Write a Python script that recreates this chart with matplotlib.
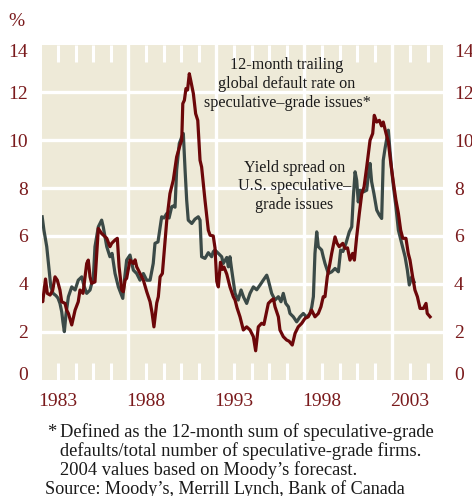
import matplotlib
matplotlib.use("Agg")
import matplotlib.pyplot as plt
import matplotlib.transforms as mtransforms

plt.rcParams['font.family'] = ['Liberation Serif', 'DejaVu Serif']

# Yield spread on U.S. speculative-grade issues (%)
spread_years = [1982.10, 1982.20, 1982.36, 1982.51, 1982.59, 1982.72, 1982.89, 1983.00, 1983.11, 1983.21,
                1983.28, 1983.36, 1983.45, 1983.59, 1983.78, 1983.97, 1984.15, 1984.35, 1984.48, 1984.63,
                1984.82, 1985.01, 1985.10, 1985.29, 1985.48, 1985.57, 1985.77, 1985.95, 1986.07, 1986.24,
                1986.43, 1986.52, 1986.68, 1986.78, 1986.90, 1987.09, 1987.28, 1987.47, 1987.66, 1987.85,
                1988.04, 1988.23, 1988.41, 1988.51, 1988.68, 1988.89, 1989.02, 1989.18, 1989.31, 1989.46,
                1989.55, 1989.65, 1989.74, 1989.89, 1990.03, 1990.12, 1990.22, 1990.31, 1990.40, 1990.60,
                1990.78, 1990.97, 1991.07, 1991.16, 1991.35, 1991.54, 1991.73, 1991.82, 1991.92, 1992.11,
                1992.30, 1992.39, 1992.59, 1992.68, 1992.77, 1992.87, 1993.06, 1993.24, 1993.40, 1993.54,
                1993.72, 1993.91, 1994.10, 1994.29, 1994.48, 1994.66, 1994.86, 1994.95, 1995.14, 1995.33,
                1995.52, 1995.67, 1995.80, 1995.94, 1996.09, 1996.18, 1996.37, 1996.56, 1996.75, 1996.94,
                1997.13, 1997.32, 1997.42, 1997.51, 1997.60, 1997.70, 1997.79, 1997.98, 1998.07, 1998.17,
                1998.36, 1998.55, 1998.74, 1998.93, 1999.06, 1999.19, 1999.36, 1999.55, 1999.69, 1999.78,
                1999.88, 1999.97, 2000.06, 2000.16, 2000.35, 2000.54, 2000.63, 2000.73, 2000.82, 2000.95,
                2001.11, 2001.26, 2001.39, 2001.48, 2001.58, 2001.68, 2001.77, 2001.86, 2001.96, 2002.05,
                2002.20, 2002.34, 2002.53, 2002.72, 2002.85, 2002.96, 2003.10, 2003.23]
spread = [6.8, 6.24, 5.55, 4.43, 3.88, 3.6, 3.5, 3.4, 3.18, 2.83,
          2.4, 2.0, 2.7, 3.46, 3.87, 3.74, 4.15, 4.29, 3.9, 3.6,
          3.74, 4.29, 5.55, 6.38, 6.66, 6.38, 5.55, 5.13, 5.27, 4.43,
          3.87, 3.7, 3.39, 4.2, 4.99, 5.2, 4.57, 4.43, 4.15, 4.43,
          4.15, 4.15, 4.85, 5.69, 5.75, 6.8, 6.75, 6.94, 6.75, 7.22,
          7.25, 7.2, 8.75, 9.86, 10.14, 10.28, 8.75, 7.5, 6.66, 6.52,
          6.7, 6.8, 6.66, 5.13, 5.06, 5.3, 5.13, 5.34, 5.41, 5.27,
          5.13, 4.85, 5.1, 4.71, 5.13, 4.57, 3.6, 3.32, 3.74, 3.45,
          3.18, 3.6, 3.87, 3.75, 3.95, 4.15, 4.36, 4.15, 3.6, 3.32,
          3.46, 3.25, 3.6, 3.18, 3.04, 2.76, 2.62, 2.41, 2.62, 2.76,
          2.6, 2.76, 3.04, 3.46, 5.27, 6.17, 5.55, 5.41, 5.13, 4.85,
          4.43, 4.5, 4.64, 4.5, 5.41, 5.35, 5.69, 6.17, 6.38, 7.63,
          8.68, 8.33, 7.42, 7.91, 7.84, 7.91, 8.54, 9.03, 8.26, 7.77,
          7.08, 6.87, 6.73, 9.16, 9.65, 10.07, 10.42, 9.58, 8.75, 8.12,
          7.22, 6.24, 5.69, 5.13, 4.57, 3.95, 4.29, 4.08]

# 12-month trailing global default rate on speculative-grade issues (%)
default_years = [1982.09, 1982.13, 1982.29, 1982.39, 1982.55, 1982.70, 1982.83, 1982.96, 1983.11, 1983.21,
                 1983.40, 1983.49, 1983.59, 1983.78, 1983.97, 1984.15, 1984.25, 1984.42, 1984.63, 1984.72,
                 1984.82, 1984.91, 1985.10, 1985.29, 1985.48, 1985.77, 1985.95, 1986.05, 1986.24, 1986.37,
                 1986.47, 1986.62, 1986.71, 1986.81, 1986.90, 1987.09, 1987.28, 1987.38, 1987.47, 1987.66,
                 1987.85, 1988.04, 1988.23, 1988.34, 1988.45, 1988.61, 1988.70, 1988.80, 1988.93, 1989.04,
                 1989.18, 1989.36, 1989.55, 1989.74, 1989.93, 1990.03, 1990.09, 1990.18, 1990.27, 1990.36,
                 1990.46, 1990.54, 1990.69, 1990.82, 1990.94, 1991.07, 1991.16, 1991.35, 1991.54, 1991.64,
                 1991.82, 1991.92, 1992.02, 1992.11, 1992.23, 1992.34, 1992.43, 1992.59, 1992.77, 1992.96,
                 1993.06, 1993.17, 1993.34, 1993.53, 1993.72, 1993.91, 1994.10, 1994.23, 1994.38, 1994.57,
                 1994.70, 1994.95, 1995.14, 1995.24, 1995.33, 1995.52, 1995.61, 1995.80, 1995.99, 1996.13,
                 1996.31, 1996.47, 1996.65, 1996.85, 1997.03, 1997.22, 1997.41, 1997.60, 1997.79, 1997.94,
                 1998.07, 1998.17, 1998.30, 1998.45, 1998.55, 1998.74, 1998.85, 1998.98, 1999.18, 1999.31,
                 1999.45, 1999.59, 1999.74, 1999.84, 1999.97, 2000.12, 2000.26, 2000.39, 2000.54, 2000.73,
                 2000.88, 2000.97, 2001.11, 2001.26, 2001.38, 2001.48, 2001.64, 2001.77, 2001.90, 2002.05,
                 2002.20, 2002.34, 2002.47, 2002.59, 2002.77, 2002.90, 2003.00, 2003.15, 2003.28, 2003.42,
                 2003.57, 2003.76, 2003.91, 2003.98, 2004.14]
default_rate = [3.4, 3.25, 4.2, 3.6, 3.53, 3.74, 4.29, 4.15, 3.74, 3.25,
                3.18, 2.9, 2.76, 2.28, 2.9, 3.25, 3.74, 3.6, 4.85, 4.99,
                4.29, 4.02, 4.08, 6.31, 6.1, 5.9, 5.55, 5.69, 5.83, 5.9,
                4.71, 3.74, 3.67, 4.15, 4.23, 4.99, 4.85, 5.0, 4.71, 4.43,
                4.15, 3.67, 3.25, 2.8, 2.2, 3.2, 3.46, 4.29, 4.43, 5.41,
                6.66, 7.77, 8.33, 9.3, 9.79, 10.0, 11.53, 11.67, 12.16, 12.1,
                12.78, 12.5, 11.95, 11.11, 10.83, 9.16, 8.88, 7.5, 6.24, 6.03,
                6.0, 5.5, 4.1, 3.87, 4.9, 4.6, 4.7, 4.4, 3.87, 3.46,
                3.32, 3.0, 2.62, 2.07, 2.2, 2.07, 1.79, 1.2, 2.2, 2.35,
                2.3, 3.18, 3.32, 3.37, 3.04, 2.62, 2.07, 1.79, 1.65, 1.6,
                1.44, 1.93, 2.2, 2.35, 2.55, 2.62, 2.9, 2.62, 2.76, 3.04,
                3.46, 3.46, 4.29, 4.85, 5.27, 5.96, 5.7, 5.55, 5.69, 5.48,
                5.5, 4.99, 5.27, 4.99, 5.96, 6.94, 7.77, 8.05, 8.88, 10.0,
                10.28, 11.04, 10.76, 10.83, 10.6, 10.76, 10.28, 9.93, 9.09, 8.26,
                7.5, 6.94, 6.24, 5.9, 5.9, 5.27, 4.99, 4.29, 3.74, 3.46,
                2.97, 2.97, 3.18, 2.76, 2.62]

label_years = [1983, 1988, 1993, 1998, 2003]
grid_years = [1987, 1992, 1997, 2002]
y_ticks = [0, 2, 4, 6, 8, 10, 12, 14]

default_note = ['12-month trailing', 'global default rate on', 'speculative\u2013grade issues*']
spread_note = ['Yield spread on', 'U.S. speculative\u2013', 'grade issues']
footnote = ['Defined as the 12-month sum of speculative-grade',
            'defaults/total number of speculative-grade firms.',
            '2004 values based on Moody\u2019s forecast.']
source = 'Source: Moody\u2019s, Merrill Lynch, Bank of Canada'

beige = '#eeead8'
red = '#6c0709'
green = '#3b4a47'
label_col = '#7a1a1c'
text_col = '#1a1a1a'

W, H = 472, 496


def px_text(x, y, s, **kw):
    # x, y in figure pixels from top-left, y is the text baseline
    fig.text(x / W, 1 - y / H, s, va='baseline', color=kw.pop('color', text_col), **kw)


fig = plt.figure(figsize=(W / 100, H / 100), dpi=100)
ax = fig.add_axes([42 / W, 1 - 379.5 / H, 401 / W, 335 / H])
ax.set_facecolor(beige)
for s in ax.spines.values():
    s.set_visible(False)

ax.set_xlim(1982.09, 2004.875)
ax.set_ylim(0, 14)

# white grid
for v in y_ticks[1:-1]:
    ax.axhline(v, color='white', lw=2.4, zorder=1)
for g in grid_years:
    ax.axvline(g, color='white', lw=2.4, zorder=1)

ax.plot(spread_years, spread, color=green, lw=2.3, zorder=3)
ax.plot(default_years, default_rate, color=red, lw=2.3, zorder=4)

# x ticks: short white marks at every year, labels every five years
minor_years = [y for y in range(1983, 2005) if y not in label_years and y not in grid_years]
ax.set_xticks(label_years)
ax.set_xticks(minor_years, minor=True)
ax.tick_params(axis='x', which='both', direction='in', length=12.2, width=2.2,
               color='white', top=True, bottom=True)
ax.tick_params(axis='x', which='major', labelsize=14, labelcolor=label_col, pad=10)

# y labels on both sides (end labels pulled inside the frame as in the original)
ax.set_yticks([])
ytrans = mtransforms.blended_transform_factory(ax.transAxes, ax.transData)
for v in y_ticks:
    ypos = {0: 0.23, 14: 13.75}.get(v, v)
    ax.text(-14 / 401, ypos, str(v), transform=ytrans, ha='right', va='center_baseline',
            fontsize=14, color=label_col, clip_on=False)
    ax.text(1 + 11 / 401, ypos, str(v), transform=ytrans, ha='left', va='center_baseline',
            fontsize=14, color=label_col, clip_on=False)

px_text(16, 26, '%', color=label_col, fontsize=14, ha='center')

for i, line in enumerate(default_note):
    px_text(287, 69 + 19 * i, line, fontsize=11.6, ha='center')
for i, line in enumerate(spread_note):
    px_text(294.5, 172 + 18.5 * i, line, fontsize=11.6, ha='center')

px_text(47, 437, '*', fontsize=13.3, ha='left')
for i, line in enumerate(footnote):
    px_text(60, 437 + 19 * i, line, fontsize=13.3, ha='left')
px_text(45, 494, source, fontsize=13.1, ha='left')

fig.savefig('out.png', dpi=100)
